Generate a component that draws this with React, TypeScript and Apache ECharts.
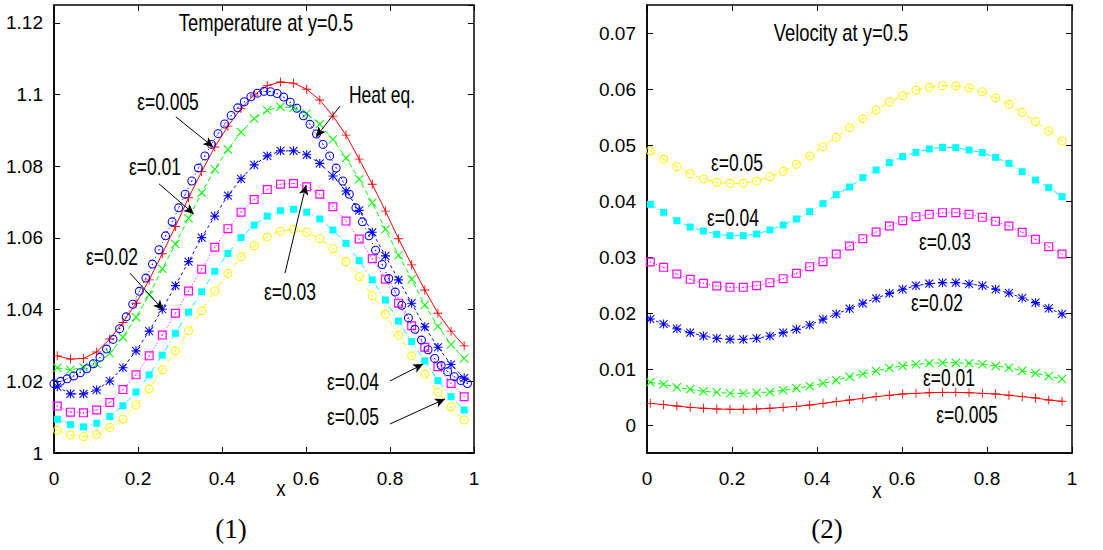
import React, { useEffect, useRef } from "react";
import * as echarts from "echarts";

// ---------- grid positions (x) ----------
const xCoarse = [0.0078, 0.0391, 0.0703, 0.1016, 0.1328, 0.1641, 0.1953, 0.2266, 0.2578, 0.2891, 0.3203, 0.3516, 0.3828, 0.4141, 0.4453, 0.4766, 0.5078, 0.5391, 0.5703, 0.6016, 0.6328, 0.6641, 0.6953, 0.7266, 0.7578, 0.7891, 0.8203, 0.8516, 0.8828, 0.9141, 0.9453, 0.9766];
const xFine = [0, 0.0156, 0.0313, 0.0469, 0.0625, 0.0781, 0.0938, 0.1094, 0.125, 0.1406, 0.1563, 0.1719, 0.1875, 0.2031, 0.2188, 0.2344, 0.25, 0.2656, 0.2813, 0.2969, 0.3125, 0.3281, 0.3438, 0.3594, 0.375, 0.3906, 0.4063, 0.4219, 0.4375, 0.4531, 0.4688, 0.4844, 0.5, 0.5156, 0.5313, 0.5469, 0.5625, 0.5781, 0.5938, 0.6094, 0.625, 0.6406, 0.6563, 0.6719, 0.6875, 0.7031, 0.7188, 0.7344, 0.75, 0.7656, 0.7813, 0.7969, 0.8125, 0.8281, 0.8438, 0.8594, 0.875, 0.8906, 0.9063, 0.9219, 0.9375, 0.9531, 0.9688, 0.9844];

// ---------- temperature at y=0.5 ----------
const tEps005 = [1.0271, 1.0262, 1.0264, 1.0282, 1.0318, 1.0364, 1.0418, 1.0483, 1.0556, 1.0632, 1.0712, 1.0785, 1.0854, 1.0912, 1.0961, 1.0999, 1.1025, 1.1035, 1.1032, 1.1015, 1.0985, 1.0940, 1.0887, 1.0820, 1.0750, 1.0675, 1.0598, 1.0525, 1.0455, 1.0390, 1.0340, 1.0299];
const tEps01 = [1.0238, 1.0232, 1.0239, 1.0248, 1.0278, 1.0323, 1.0379, 1.0441, 1.0514, 1.0583, 1.0655, 1.0726, 1.0792, 1.0847, 1.0895, 1.0933, 1.0956, 1.0966, 1.0963, 1.0947, 1.0918, 1.0875, 1.0823, 1.0764, 1.0698, 1.0624, 1.0552, 1.0485, 1.0413, 1.0354, 1.0303, 1.0264];
const tEps02 = [1.0185, 1.0165, 1.0165, 1.0176, 1.0201, 1.0238, 1.0285, 1.0340, 1.0401, 1.0467, 1.0534, 1.0601, 1.0661, 1.0718, 1.0765, 1.0804, 1.0829, 1.0843, 1.0843, 1.0832, 1.0808, 1.0773, 1.0731, 1.0677, 1.0616, 1.0550, 1.0483, 1.0418, 1.0352, 1.0295, 1.0247, 1.0209];
const tEps03 = [1.0131, 1.0114, 1.0112, 1.0120, 1.0141, 1.0177, 1.0218, 1.0271, 1.0329, 1.0390, 1.0452, 1.0513, 1.0574, 1.0626, 1.0672, 1.0707, 1.0735, 1.0750, 1.0752, 1.0743, 1.0722, 1.0687, 1.0647, 1.0597, 1.0542, 1.0485, 1.0418, 1.0355, 1.0295, 1.0241, 1.0194, 1.0157];
const tEps04 = [1.0094, 1.0079, 1.0073, 1.0083, 1.0102, 1.0132, 1.0170, 1.0218, 1.0273, 1.0334, 1.0393, 1.0450, 1.0507, 1.0557, 1.0601, 1.0636, 1.0661, 1.0676, 1.0680, 1.0672, 1.0653, 1.0622, 1.0585, 1.0537, 1.0483, 1.0427, 1.0368, 1.0311, 1.0257, 1.0202, 1.0157, 1.0120];
const tEps05 = [1.0064, 1.0050, 1.0046, 1.0052, 1.0071, 1.0095, 1.0134, 1.0179, 1.0232, 1.0285, 1.0341, 1.0397, 1.0452, 1.0501, 1.0548, 1.0578, 1.0603, 1.0619, 1.0624, 1.0616, 1.0598, 1.0570, 1.0534, 1.0492, 1.0439, 1.0387, 1.0329, 1.0271, 1.0220, 1.0169, 1.0129, 1.0092];
const tHeat = [1.0193, 1.0200, 1.0207, 1.0215, 1.0224, 1.0235, 1.0249, 1.0267, 1.0290, 1.0317, 1.0347, 1.0380, 1.0415, 1.0451, 1.0488, 1.0527, 1.0567, 1.0606, 1.0645, 1.0684, 1.0722, 1.0759, 1.0795, 1.0829, 1.0861, 1.0891, 1.0918, 1.0942, 1.0963, 1.0980, 1.0994, 1.1004, 1.1009, 1.1008, 1.1003, 1.0993, 1.0979, 1.0962, 1.0941, 1.0917, 1.0890, 1.0861, 1.0829, 1.0795, 1.0759, 1.0722, 1.0684, 1.0645, 1.0606, 1.0566, 1.0526, 1.0487, 1.0449, 1.0412, 1.0377, 1.0345, 1.0315, 1.0288, 1.0264, 1.0244, 1.0227, 1.0213, 1.0202, 1.0194];

// ---------- velocity at y=0.5 ----------
const vEps005 = [0.00387, 0.00363, 0.00339, 0.00315, 0.00298, 0.00286, 0.00280, 0.00280, 0.00286, 0.00298, 0.00315, 0.00333, 0.00357, 0.00387, 0.00417, 0.00446, 0.00476, 0.00506, 0.00530, 0.00554, 0.00565, 0.00577, 0.00583, 0.00583, 0.00577, 0.00565, 0.00554, 0.00530, 0.00506, 0.00482, 0.00446, 0.00423];
const vEps01 = [0.00762, 0.00726, 0.00673, 0.00637, 0.00601, 0.00583, 0.00565, 0.00565, 0.00577, 0.00589, 0.00619, 0.00655, 0.00696, 0.00744, 0.00798, 0.00863, 0.00911, 0.00964, 0.01018, 0.01054, 0.01083, 0.01101, 0.01113, 0.01113, 0.01101, 0.01083, 0.01054, 0.01024, 0.00970, 0.00923, 0.00875, 0.00821];
const vEps02 = [0.01893, 0.01804, 0.01720, 0.01649, 0.01589, 0.01548, 0.01530, 0.01530, 0.01548, 0.01589, 0.01649, 0.01708, 0.01786, 0.01887, 0.01982, 0.02077, 0.02173, 0.02262, 0.02351, 0.02423, 0.02488, 0.02524, 0.02542, 0.02542, 0.02518, 0.02488, 0.02423, 0.02357, 0.02268, 0.02185, 0.02083, 0.01982];
const vEps03 = [0.02910, 0.02815, 0.02696, 0.02601, 0.02530, 0.02482, 0.02458, 0.02458, 0.02488, 0.02542, 0.02613, 0.02708, 0.02827, 0.02917, 0.03054, 0.03196, 0.03327, 0.03446, 0.03554, 0.03649, 0.03720, 0.03762, 0.03792, 0.03792, 0.03762, 0.03708, 0.03637, 0.03554, 0.03440, 0.03315, 0.03184, 0.03054];
const vEps04 = [0.03940, 0.03798, 0.03649, 0.03536, 0.03464, 0.03405, 0.03381, 0.03381, 0.03411, 0.03482, 0.03571, 0.03679, 0.03810, 0.03952, 0.04113, 0.04250, 0.04417, 0.04554, 0.04685, 0.04792, 0.04869, 0.04929, 0.04958, 0.04952, 0.04911, 0.04863, 0.04780, 0.04673, 0.04524, 0.04375, 0.04238, 0.04077];
const vEps05 = [0.04898, 0.04744, 0.04613, 0.04488, 0.04393, 0.04333, 0.04316, 0.04316, 0.04357, 0.04434, 0.04530, 0.04655, 0.04804, 0.04970, 0.05137, 0.05310, 0.05470, 0.05625, 0.05768, 0.05881, 0.05976, 0.06030, 0.06060, 0.06054, 0.06018, 0.05952, 0.05845, 0.05726, 0.05583, 0.05417, 0.05250, 0.05071];

// ---------- axis ticks ----------
const xTicks = { min: 0, max: 1, interval: 0.2 };
const tempTicks = { min: 1, max: 1.125, interval: 0.02 };
const velRange = { min: -0.005, max: 0.075, splitNumber: 8 };

// ---------- annotation texts and arrows (data units) ----------
const tempLabels = ["ε=0.005", "ε=0.01", "ε=0.02", "ε=0.03", "Heat eq.", "ε=0.04", "ε=0.05"];
const tempArrowFrom = [[0.29, 1.0938], [0.25, 1.0751], [0.181, 1.0502], [0.55, 1.0502], [0.681, 1.0968], [0.8, 1.0201], [0.8, 1.0081]];
const tempArrowTo = [[0.379, 1.0854], [0.333, 1.0667], [0.26, 1.0399], [0.6, 1.0748], [0.624, 1.0882], [0.879, 1.0248], [0.931, 1.0151]];
const velLabels = ["ε=0.05", "ε=0.04", "ε=0.03", "ε=0.02", "ε=0.01", "ε=0.005"];

const FONT = "'Liberation Sans',Arial,sans-serif";
const SERIF = "'Liberation Serif','DejaVu Serif',serif";

const SYM = {
  plus: "path://M4.5,0H5.5V4.5H10V5.5H5.5V10H4.5V5.5H0V4.5H4.5Z",
  cross: "path://M0,0.8L0.8,0L5,4.2L9.2,0L10,0.8L5.8,5L10,9.2L9.2,10L5,5.8L0.8,10L0,9.2L4.2,5Z",
  star: "path://M4.4,0H5.6V10H4.4Z M0,4.4H10V5.6H0Z M1,0.2L9.8,9L9,9.8L0.2,1Z M9,0.2L9.8,1L1,9.8L0.2,9Z",
  boxDot: "path://M0,0H10V10H0Z M1.3,1.3V8.7H8.7V1.3Z M4.4,4.4H5.6V5.6H4.4Z",
  box: "path://M0,0H10V10H0Z",
  circleDot: "path://M5,0A5,5,0,1,1,5,10A5,5,0,1,1,5,0Z M5,1.2A3.8,3.8,0,1,0,5,8.8A3.8,3.8,0,1,0,5,1.2Z M5,4.3A0.7,0.7,0,1,1,5,5.7A0.7,0.7,0,1,1,5,4.3Z",
};

const zip = (xs: number[], ys: number[]) => ys.map((y, i) => [xs[i], y]);

function mkSeries(name: string, xs: number[], ys: number[], color: string, symbol: string, size: number, dash: any, gi: number, extra: any = {}) {
  return {
    name,
    type: "line",
    xAxisIndex: gi * 2,
    yAxisIndex: gi * 2,
    data: zip(xs, ys),
    symbol,
    symbolSize: size,
    showSymbol: true,
    lineStyle: { color, width: 1, type: dash },
    itemStyle: { color },
    silent: true,
    ...extra,
  };
}

const LBL = { color: "#000", fontSize: 19, fontFamily: FONT };

function axesFor(gi: number, yCfg: any, hideMin: boolean) {
  const xs = [
    {
      type: "value", gridIndex: gi, position: "bottom", ...xTicks,
      axisLine: { show: true, onZero: false, lineStyle: { color: "#000", width: 1.5 } },
      axisTick: { show: true, inside: true, length: 6, lineStyle: { color: "#000" } },
      axisLabel: { show: true, margin: 16, ...LBL },
      splitLine: { show: false },
    },
    {
      type: "value", gridIndex: gi, position: "top", ...xTicks,
      axisLine: { show: false, onZero: false },
      axisTick: { show: true, inside: true, length: 6, lineStyle: { color: "#000" } },
      axisLabel: { show: false },
      splitLine: { show: false },
    },
  ];
  const ys = [
    {
      type: "value", gridIndex: gi, position: "left", ...yCfg,
      axisLine: { show: true, onZero: false, lineStyle: { color: "#000", width: 1.5 } },
      axisTick: { show: true, inside: true, length: 6, lineStyle: { color: "#000" } },
      axisLabel: { show: true, margin: 11, ...LBL, showMaxLabel: false, showMinLabel: !hideMin },
      splitLine: { show: false },
    },
    {
      type: "value", gridIndex: gi, position: "right", ...yCfg,
      axisLine: { show: false, onZero: false },
      axisTick: { show: true, inside: true, length: 6, lineStyle: { color: "#000" } },
      axisLabel: { show: false },
      splitLine: { show: false },
    },
  ];
  return { xs, ys };
}

export default function App() {
  const ref = useRef<HTMLDivElement>(null);
  useEffect(() => {
    if (!ref.current) return;
    const chart = echarts.init(ref.current, null, { renderer: "svg" });
    const a0 = axesFor(0, tempTicks, false);
    const a1 = axesFor(1, velRange, true);

    const arrowData = tempArrowFrom.map((f, i) => [
      { coord: f, symbol: "none" },
      { coord: tempArrowTo[i], symbol: "arrow", symbolSize: [7, 10] },
    ]);

    const txt = (text: string, x: number, y: number, size = 23, sx = 0.78, family = FONT) => ({
      type: "text", x, y, scaleX: sx, silent: true,
      style: { text, fill: "#000", font: `${size}px ${family}`, textAlign: "center", textVerticalAlign: "middle" },
    });

    const tempPos = [[168, 102], [155, 167], [112, 257], [290, 292], [382, 95], [353, 382], [353, 417]];
    const velPos = [[737, 163], [733, 218], [945, 242], [937, 303], [949, 378], [967, 415]];

    chart.setOption({
      animation: false,
      grid: [
        { left: 54, top: 5, width: 420, height: 448, show: true, borderColor: "#000", borderWidth: 1.5, backgroundColor: "transparent" },
        { left: 647, top: 5, width: 425, height: 448, show: true, borderColor: "#000", borderWidth: 1.5, backgroundColor: "transparent" },
      ],
      xAxis: [...a0.xs, ...a1.xs],
      yAxis: [...a0.ys, ...a1.ys],
      series: [
        mkSeries("ε=0.05", xCoarse, tEps05, "#ffff00", SYM.circleDot, 9, [6, 3, 1, 3], 0),
        mkSeries("ε=0.04", xCoarse, tEps04, "#00ffff", SYM.box, 7, [6, 3, 1, 3], 0),
        mkSeries("ε=0.03", xCoarse, tEps03, "#ff00ff", SYM.boxDot, 9, [1, 2], 0),
        mkSeries("ε=0.02", xCoarse, tEps02, "#0000ff", SYM.star, 9, [3, 3], 0),
        mkSeries("ε=0.01", xCoarse, tEps01, "#00ff00", SYM.cross, 9, [5, 3], 0),
        mkSeries("ε=0.005", xCoarse, tEps005, "#ff0000", SYM.plus, 9, "solid", 0),
        mkSeries("Heat eq.", xFine, tHeat, "#0000ff", SYM.circleDot, 9, [1, 3], 0, {
          markLine: {
            silent: true,
            symbol: ["none", "arrow"],
            label: { show: false },
            lineStyle: { color: "#000", width: 1, type: "solid" },
            emphasis: { disabled: true },
            data: arrowData,
          },
        }),
        mkSeries("ε=0.05 v", xCoarse, vEps05, "#ffff00", SYM.circleDot, 9, [6, 3, 1, 3], 1),
        mkSeries("ε=0.04 v", xCoarse, vEps04, "#00ffff", SYM.box, 7, [6, 3, 1, 3], 1),
        mkSeries("ε=0.03 v", xCoarse, vEps03, "#ff00ff", SYM.boxDot, 9, [1, 2], 1),
        mkSeries("ε=0.02 v", xCoarse, vEps02, "#0000ff", SYM.star, 9, [3, 3], 1),
        mkSeries("ε=0.01 v", xCoarse, vEps01, "#00ff00", SYM.cross, 9, [5, 3], 1),
        mkSeries("ε=0.005 v", xCoarse, vEps005, "#ff0000", SYM.plus, 9, "solid", 1),
      ],
      graphic: [
        txt("Temperature at y=0.5", 266, 23, 23, 0.8),
        txt("Velocity at y=0.5", 841, 33, 23, 0.8),
        ...tempLabels.map((t, i) => txt(t, tempPos[i][0], tempPos[i][1], 23, 0.76)),
        ...velLabels.map((t, i) => txt(t, velPos[i][0], velPos[i][1], 23, 0.76)),
        txt("x", 281, 488, 22, 0.85),
        txt("x", 877, 490, 22, 0.85),
        txt("(1)", 231, 529, 27, 1, SERIF),
        txt("(2)", 827, 529, 27, 1, SERIF),
      ],
    });
    return () => chart.dispose();
  }, []);
  return <div ref={ref} style={{ position: "fixed", left: 0, top: 0, width: 1103, height: 550, background: "#fff" }} />;
}
